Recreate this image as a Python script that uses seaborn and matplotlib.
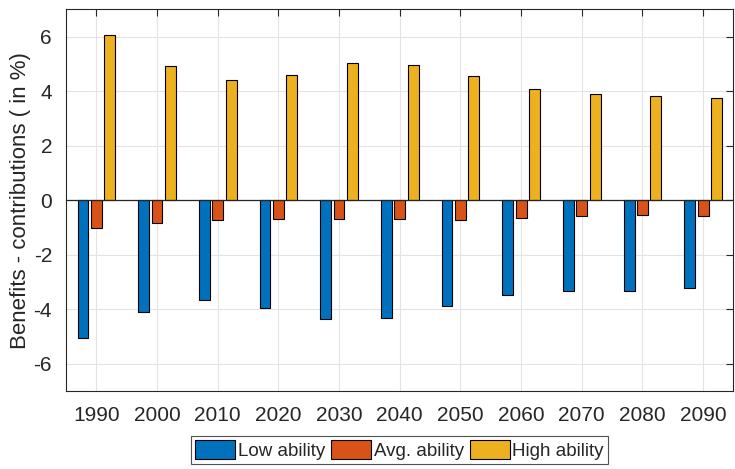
import matplotlib
matplotlib.use("Agg")
import matplotlib.pyplot as plt
import seaborn as sns
import pandas as pd

years = [1990, 2000, 2010, 2020, 2030, 2040, 2050, 2060, 2070, 2080, 2090]
low_ability = [-5.06, -4.11, -3.67, -3.94, -4.37, -4.30, -3.89, -3.47, -3.33, -3.31, -3.20]
avg_ability = [-1.00, -0.82, -0.73, -0.67, -0.69, -0.69, -0.71, -0.64, -0.59, -0.55, -0.58]
high_ability = [6.05, 4.91, 4.40, 4.60, 5.04, 4.97, 4.57, 4.09, 3.88, 3.83, 3.76]
groups = ["Low ability", "Avg. ability", "High ability"]
colors = ["#0072BD", "#D95319", "#EDB120"]
yticks = [-6, -4, -2, 0, 2, 4, 6]

rows = []
for g, vals in zip(groups, [low_ability, avg_ability, high_ability]):
    for y, v in zip(years, vals):
        rows.append({"year": str(y), "group": g, "value": v})
df = pd.DataFrame(rows)

sns.set_style("white")
plt.rcParams["font.family"] = ["Liberation Sans", "DejaVu Sans"]
plt.rcParams["axes.unicode_minus"] = False

fig = plt.figure(figsize=(7.35, 4.69), dpi=100)
ax = fig.add_axes([0.0898, 0.166, 0.908, 0.814])

sns.barplot(data=df, x="year", y="value", hue="group", hue_order=groups,
            palette=colors, saturation=1, width=0.66, gap=0.18,
            edgecolor="black", linewidth=0.8, errorbar=None, ax=ax, zorder=3)

ax.axhline(0, color="#262626", lw=0.9, zorder=4)
ax.set_xlim(-0.5, 10.5)
ax.set_ylim(-7, 7)
ax.set_yticks(yticks)
ax.set_yticklabels([str(t) for t in yticks])
ax.set_xlabel("")
ax.set_ylabel("Benefits - contributions ( in %)", fontsize=16, color="#262626")
ax.yaxis.set_label_coords(-0.053, 0.5)
ax.tick_params(axis="both", labelsize=15, colors="#262626", direction="in",
               length=5, width=0.8, top=True, right=True)
ax.tick_params(axis="y", pad=10)
ax.tick_params(axis="x", pad=11)
ax.grid(True, color="#e3e3e3", lw=0.8, zorder=0)
ax.set_axisbelow(True)
for s in ax.spines.values():
    s.set_color("#262626")
    s.set_linewidth(0.8)

leg = ax.legend(loc="upper center", bbox_to_anchor=(0.5, -0.118), ncol=3,
                fontsize=13.5, frameon=True, fancybox=False, edgecolor="#262626",
                handlelength=2.1, handleheight=1.15, handletextpad=0.15,
                columnspacing=0.35, borderpad=0.22, borderaxespad=0)
leg.get_frame().set_linewidth(0.8)

fig.savefig("out.png", dpi=100)
